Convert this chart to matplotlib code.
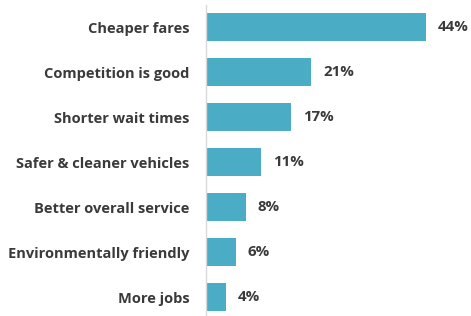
import matplotlib.pyplot as plt
import numpy as np

labels = ['Cheaper fares', 'Competition is good', 'Shorter wait times',
          'Safer & cleaner vehicles', 'Better overall service',
          'Environmentally friendly', 'More jobs']
values = [44, 21, 17, 11, 8, 6, 4]

bar_color = '#4BACC6'
text_color = '#3a3a3a'

plt.rcParams['font.family'] = ['Open Sans', 'DejaVu Sans']

fig = plt.figure(figsize=(4.71, 3.16), dpi=100)
ax = fig.add_axes([206/471, 0, 265/471, 311/316])

y = np.arange(len(labels))
ax.barh(y, values, height=0.62, color=bar_color)

for yi, v in zip(y, values):
    ax.text(v + 2.4, yi, str(v) + '%', va='center', ha='left',
            fontsize=10.8, fontweight='bold', color=text_color)

ax.set_xlim(0, 53)
ax.set_ylim(6.42, -0.49)
ax.set_yticks(y)
ax.set_yticklabels(labels, fontsize=10.5, fontweight='bold', color=text_color)
ax.tick_params(axis='y', length=0, pad=12)
ax.set_xticks([])

for s in ['top', 'right', 'bottom']:
    ax.spines[s].set_visible(False)
ax.spines['left'].set_color('#d9d9d9')
ax.spines['left'].set_linewidth(1)

fig.savefig('out.png', dpi=100)
